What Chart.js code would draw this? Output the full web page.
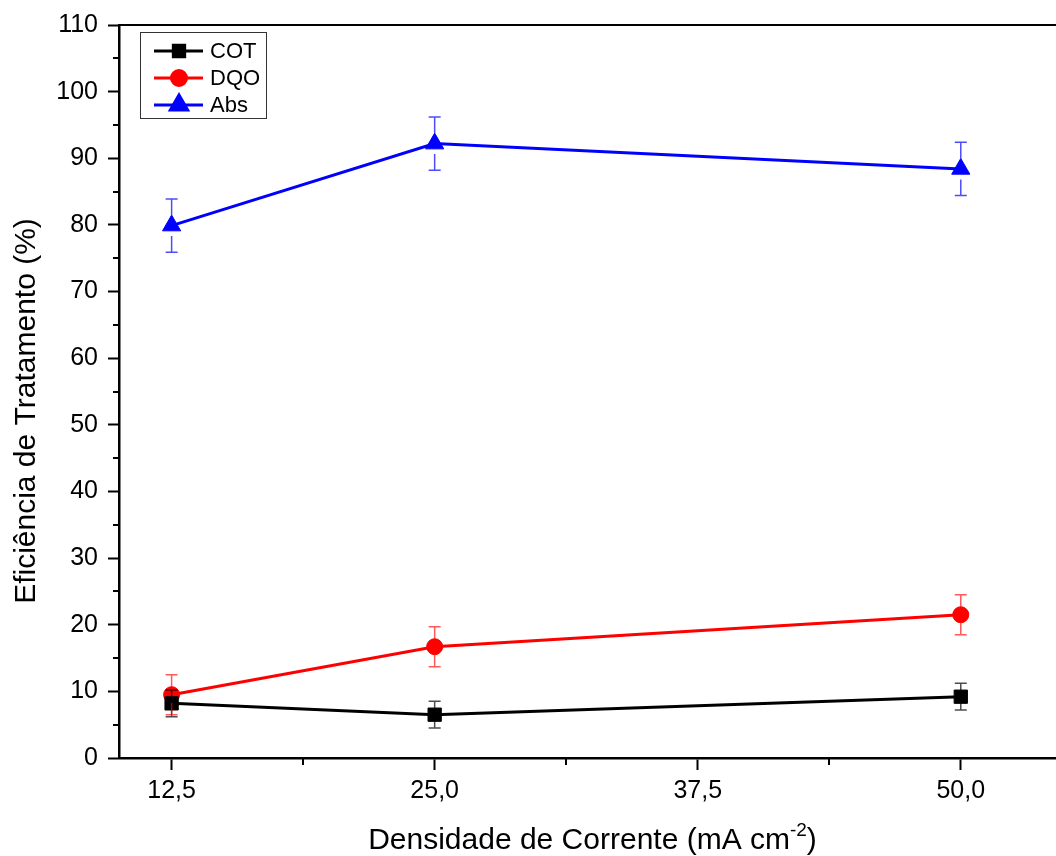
<!DOCTYPE html>
<html>
<head>
<meta charset="utf-8">
<script src="https://cdn.jsdelivr.net/npm/chart.js@4/dist/chart.umd.min.js"></script>
<style>
  html, body { margin: 0; padding: 0; background: #fff; overflow: hidden; }
  #wrap { width: 1056px; height: 856px; overflow: hidden; }
</style>
</head>
<body>
<div id="wrap"><canvas id="myChart" width="1080" height="856"></canvas></div>
<script>
// densidade de corrente (mA cm-2)
const densidades = [12.5, 25.0, 50.0];
// eficiência (%) e desvio
const cot = [8.2, 6.5, 9.2];
const cotErr = [2.0, 2.0, 2.0];
const dqo = [9.5, 16.7, 21.5];
const dqoErr = [3.0, 3.0, 3.0];
const abs = [79.9, 92.2, 88.4];
const absErr = [4.0, 4.0, 4.0];
// ticks
const xTicks = [12.5, 25.0, 37.5, 50.0];
const xMinor = [18.75, 31.25, 43.75];
const yMinor = [5, 15, 25, 35, 45, 55, 65, 75, 85, 95, 105];

const FONT = '"Liberation Sans", Arial, sans-serif';

function pts(vals) {
    return densidades.map((d, i) => ({ x: d, y: vals[i] }));
}

// barras de erro, desenhadas a partir da borda do marcador
const errorBars = {
    id: 'errorBars',
    afterDatasetsDraw(chart) {
        const ctx = chart.ctx;
        const y = chart.scales.y;
        chart.data.datasets.forEach((ds, di) => {
            const meta = chart.getDatasetMeta(di);
            ctx.save();
            ctx.strokeStyle = ds.errColor;
            ctx.lineWidth = 1.5;
            meta.data.forEach((p, i) => {
                const v = ds.data[i].y;
                const e = ds.errors[i];
                const top = y.getPixelForValue(v + e);
                const bot = y.getPixelForValue(v - e);
                ctx.beginPath();
                ctx.moveTo(p.x, p.y - ds.errGap);
                ctx.lineTo(p.x, top);
                ctx.moveTo(p.x, p.y + ds.errGap);
                ctx.lineTo(p.x, bot);
                ctx.moveTo(p.x - 6, top); ctx.lineTo(p.x + 6, top);
                ctx.moveTo(p.x - 6, bot); ctx.lineTo(p.x + 6, bot);
                ctx.stroke();
            });
            ctx.restore();
        });
    }
};

// ticks menores, borda superior, títulos e legenda
const extras = {
    id: 'extras',
    afterDraw(chart) {
        const ctx = chart.ctx;
        const a = chart.chartArea;
        const xs = chart.scales.x, ys = chart.scales.y;
        ctx.save();
        ctx.strokeStyle = '#000';
        ctx.lineWidth = 2;
        ctx.beginPath();
        yMinor.forEach(v => {
            const py = Math.round(ys.getPixelForValue(v));
            ctx.moveTo(a.left - 6, py); ctx.lineTo(a.left, py);
        });
        xMinor.forEach(v => {
            const px = Math.round(xs.getPixelForValue(v));
            ctx.moveTo(px, a.bottom); ctx.lineTo(px, a.bottom + 7);
        });
        ctx.moveTo(a.left - 1, a.top); ctx.lineTo(a.right, a.top);
        ctx.stroke();

        // título eixo Y
        ctx.fillStyle = '#000';
        ctx.font = '30px ' + FONT;
        ctx.save();
        ctx.translate(35, 411);
        ctx.rotate(-Math.PI / 2);
        ctx.textAlign = 'center';
        ctx.textBaseline = 'alphabetic';
        ctx.fillText('Eficiência de Tratamento (%)', 0, 0);
        ctx.restore();

        // título eixo X com sobrescrito
        const t1 = 'Densidade de Corrente (mA cm', sup = '-2', t2 = ')';
        ctx.font = '30px ' + FONT;
        const w1 = ctx.measureText(t1).width, w3 = ctx.measureText(t2).width;
        ctx.font = '19px ' + FONT;
        const w2 = ctx.measureText(sup).width;
        let x0 = (a.left + a.right) / 2 - (w1 + w2 + w3) / 2;
        const base = 849;
        ctx.textAlign = 'left';
        ctx.textBaseline = 'alphabetic';
        ctx.font = '30px ' + FONT;
        ctx.fillText(t1, x0, base);
        ctx.font = '19px ' + FONT;
        ctx.fillText(sup, x0 + w1, base - 13);
        ctx.font = '30px ' + FONT;
        ctx.fillText(t2, x0 + w1 + w2, base);

        // legenda
        ctx.lineWidth = 1;
        ctx.strokeStyle = '#333';
        ctx.strokeRect(140.5, 32.5, 126, 86);
        ctx.font = '22px ' + FONT;
        ctx.textBaseline = 'middle';
        const rows = [51, 78, 105];
        chart.data.datasets.forEach((ds, i) => {
            const ry = rows[i];
            ctx.strokeStyle = ds.borderColor;
            ctx.fillStyle = ds.backgroundColor;
            ctx.lineWidth = 3;
            ctx.beginPath();
            ctx.moveTo(154, ry); ctx.lineTo(203, ry);
            ctx.stroke();
            Chart.helpers.drawPoint(ctx, {
                pointStyle: ds.pointStyle, radius: ds.legendRadius,
                rotation: 0, borderWidth: 1
            }, 179, ry);
            ctx.fillStyle = '#000';
            ctx.fillText(ds.label, 210, ry + 1);
        });
        ctx.restore();
    }
};

const config = {
    type: 'line',
    data: {
        datasets: [
            {
                label: 'COT', data: pts(cot), errors: cotErr,
                borderColor: '#000000', backgroundColor: '#000000', errColor: 'rgba(0,0,0,0.7)',
                pointStyle: 'rect', pointRadius: 9.4, legendRadius: 8, errGap: 6.5
            },
            {
                label: 'DQO', data: pts(dqo), errors: dqoErr,
                borderColor: '#ff0000', backgroundColor: '#ff0000', errColor: 'rgba(255,0,0,0.65)',
                pointStyle: 'circle', pointRadius: 8, legendRadius: 7.5, errGap: 8
            },
            {
                label: 'Abs', data: pts(abs), errors: absErr,
                borderColor: '#0000ff', backgroundColor: '#0000ff', errColor: 'rgba(0,0,255,0.7)',
                pointStyle: 'triangle', pointRadius: 10.5, legendRadius: 10, errGap: 10.5
            }
        ]
    },
    options: {
        responsive: false,
        animation: false,
        layout: { padding: { top: 24, right: 14, left: 0, bottom: 0 } },
        elements: {
            line: { borderWidth: 3, tension: 0 },
            point: { borderWidth: 1, hoverRadius: 10 }
        },
        scales: {
            x: {
                type: 'linear', min: 10, max: 55,
                afterBuildTicks: (s) => { s.ticks = xTicks.map(v => ({ value: v })); },
                afterFit: (s) => { s.height = 98; },
                border: { display: true, color: '#000', width: 2.5 },
                grid: { drawOnChartArea: false, tickLength: 12, tickWidth: 2, tickColor: '#000' },
                ticks: {
                    color: '#000', font: { family: FONT, size: 25 }, padding: 6,
                    maxRotation: 0,
                    callback: (v) => Number(v).toFixed(1).replace('.', ',')
                }
            },
            y: {
                min: 0, max: 110,
                afterFit: (s) => { s.width = 119; },
                border: { display: true, color: '#000', width: 2.5 },
                grid: { drawOnChartArea: false, tickLength: 11, tickWidth: 2, tickColor: '#000' },
                ticks: {
                    stepSize: 10, color: '#000', font: { family: FONT, size: 25 }, padding: 10
                }
            }
        },
        plugins: {
            legend: { display: false },
            tooltip: { enabled: false }
        }
    },
    plugins: [errorBars, extras]
};

const ctx = document.getElementById('myChart').getContext('2d');
window.myChart = new Chart(ctx, config);
</script>
</body>
</html>
